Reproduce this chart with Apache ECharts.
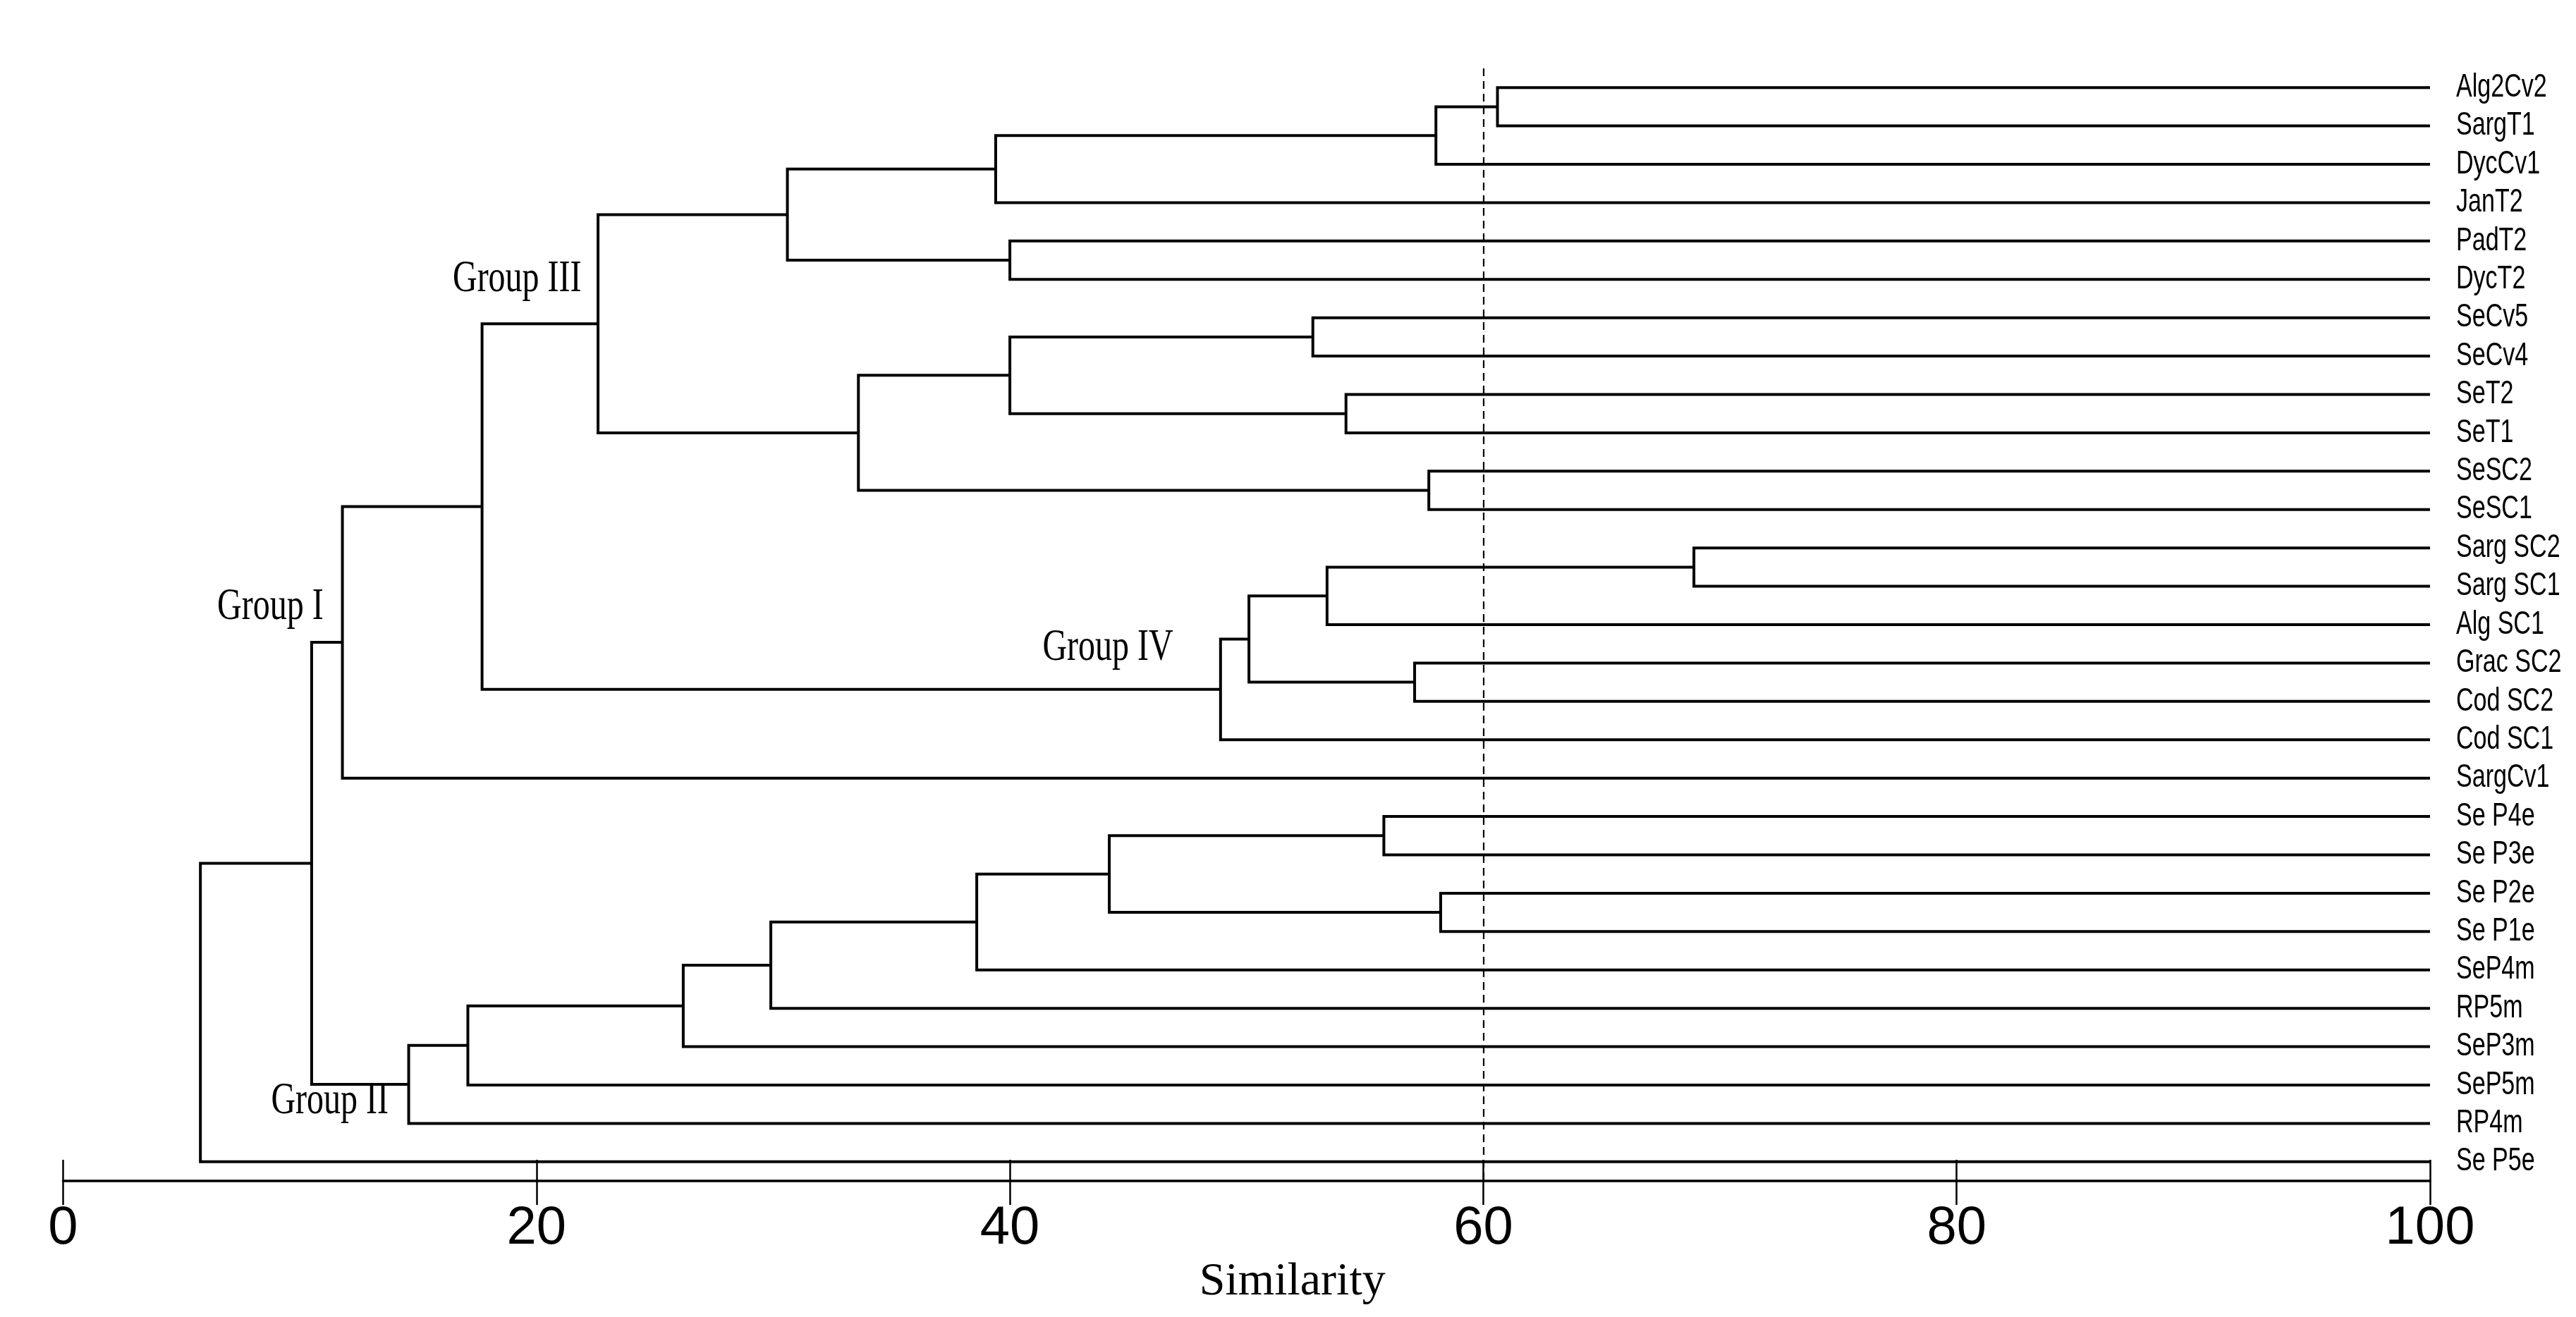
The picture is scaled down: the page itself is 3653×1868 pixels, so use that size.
<!DOCTYPE html>
<html>
<head>
<meta charset="utf-8">
<script src="https://cdn.jsdelivr.net/npm/echarts@6/dist/echarts.min.js"></script>
<style>
html,body{margin:0;padding:0;background:#ffffff;}
#chart{width:3653px;height:1868px;}
</style>
</head>
<body>
<div id="chart"></div>
<script>
// ---- data ----
const leafNames = [
  'Alg2Cv2','SargT1','DycCv1','JanT2','PadT2','DycT2','SeCv5','SeCv4','SeT2','SeT1',
  'SeSC2','SeSC1','Sarg SC2','Sarg SC1','Alg SC1','Grac SC2','Cod SC2','Cod SC1','SargCv1',
  'Se P4e','Se P3e','Se P2e','Se P1e','SeP4m','RP5m','SeP3m','SeP5m','RP4m','Se P5e'
];
// [left, right, similarity]; a number refers to an earlier merge, a string to a leaf
const merges = [
  ['Alg2Cv2','SargT1',60.6],   // 0
  [0,'DycCv1',58.0],           // 1
  [1,'JanT2',39.4],            // 2
  ['PadT2','DycT2',40.0],      // 3
  [2,3,30.6],                  // 4
  ['SeCv5','SeCv4',52.8],      // 5
  ['SeT2','SeT1',54.2],        // 6
  [5,6,40.0],                  // 7
  ['SeSC2','SeSC1',57.7],      // 8
  [7,8,33.6],                  // 9
  [4,9,22.6],                  // 10 Group III
  ['Sarg SC2','Sarg SC1',68.9],// 11
  [11,'Alg SC1',53.4],         // 12
  ['Grac SC2','Cod SC2',57.1], // 13
  [12,13,50.1],                // 14
  [14,'Cod SC1',48.9],         // 15 Group IV
  [10,15,17.7],                // 16
  [16,'SargCv1',11.8],         // 17 Group I
  ['Se P4e','Se P3e',55.8],    // 18
  ['Se P2e','Se P1e',58.2],    // 19
  [18,19,44.2],                // 20
  [20,'SeP4m',38.6],           // 21
  [21,'RP5m',29.9],            // 22
  [22,'SeP3m',26.2],           // 23
  [23,'SeP5m',17.1],           // 24
  [24,'RP4m',14.6],            // 25 Group II
  [17,25,10.5],                // 26
  [26,'Se P5e',5.8]            // 27
];
const cutoff = 60;
const groupNames = ['Group III','Group I','Group IV','Group II'];
const groupAnchorX = [21.9, 11.0, 46.9, 13.75];
const groupAnchorY = [5.0, 13.54, 14.61, 26.43];
const axisName = 'Similarity';

// ---- layout of tree from data ----
const leafIndex = {};
leafNames.forEach((n, i) => { leafIndex[n] = i; });
const nodeY = [];
function nodePos(ref) {
  if (typeof ref === 'number') return { x: merges[ref][2], y: nodeY[ref] };
  return { x: 100, y: leafIndex[ref] };
}
const linkData = merges.map((m, i) => {
  const a = nodePos(m[0]), b = nodePos(m[1]);
  nodeY[i] = (a.y + b.y) / 2;
  return [m[2], a.x, a.y, b.x, b.y];
});
const groupData = groupNames.map((n, i) => [groupAnchorX[i], groupAnchorY[i]]);
const leafData = leafNames.map((n, i) => [100, i]);

const chart = echarts.init(document.getElementById('chart'), null, { renderer: 'canvas' });
const sansFont = '"Liberation Sans", Arial, sans-serif';
const serifFont = '"Liberation Serif", "Times New Roman", serif';
const gridTop = 97, gridBottom = 193, H = 1868;

chart.setOption({
  backgroundColor: '#ffffff',
  animation: false,
  grid: { left: 89.5, right: 207, top: gridTop, bottom: gridBottom, outerBoundsMode: 'none' },
  xAxis: [{
    type: 'value', min: 0, max: 100, interval: 20, position: 'bottom',
    axisLine: { show: true, onZero: false, lineStyle: { color: '#000', width: 3.5 } },
    axisTick: { show: true, inside: false, length: 34, lineStyle: { color: '#000', width: 2.5 } },
    axisLabel: { show: true, margin: 30, fontSize: 76, color: '#000', fontFamily: sansFont },
    splitLine: { show: false },
    name: axisName, nameLocation: 'middle', nameGap: 98,
    nameTextStyle: { fontSize: 66, color: '#000', fontFamily: serifFont, padding: [0, 0, 0, 130] }
  }, {
    // second axis drawn on the same bottom line, carrying the upward half of each tick
    type: 'value', min: 0, max: 100, interval: 20, position: 'top',
    offset: -(H - gridTop - gridBottom),
    axisLine: { show: false, onZero: false },
    axisTick: { show: true, inside: false, length: 30, lineStyle: { color: '#000', width: 2.5 } },
    axisLabel: { show: false },
    splitLine: { show: false }
  }],
  yAxis: [{
    type: 'value', inverse: true, min: -0.5, max: leafNames.length - 0.5, show: false,
    axisLine: { onZero: false },
    splitLine: { show: false }
  }],
  series: [{
    type: 'custom',
    xAxisIndex: 0, yAxisIndex: 0,
    data: linkData,
    encode: { x: 0, y: 2 },
    silent: true,
    renderItem: function (params, api) {
      const s = api.value(0), ax = api.value(1), ay = api.value(2), bx = api.value(3), by = api.value(4);
      const p0 = api.coord([ax, ay]), p1 = api.coord([s, ay]), p2 = api.coord([s, by]), p3 = api.coord([bx, by]);
      return {
        type: 'polyline',
        shape: { points: [p0, p1, p2, p3] },
        style: { stroke: '#000', lineWidth: 4, fill: null, lineJoin: 'miter' }
      };
    },
    markLine: {
      silent: true, symbol: 'none', label: { show: false },
      lineStyle: { type: [11, 7], color: '#000', width: 2.2 },
      emphasis: { disabled: true },
      data: [{ xAxis: cutoff }]
    }
  }, {
    type: 'custom',
    name: 'leaf labels',
    xAxisIndex: 0, yAxisIndex: 0,
    data: leafData,
    encode: { x: 0, y: 1 },
    silent: true,
    renderItem: function (params, api) {
      const p = api.coord([api.value(0), api.value(1)]);
      return {
        type: 'text', x: p[0] + 37, y: p[1], scaleX: 0.74, scaleY: 1,
        style: {
          text: leafNames[params.dataIndex], fill: '#000',
          font: '46px ' + sansFont, textAlign: 'left', textVerticalAlign: 'middle'
        }
      };
    }
  }, {
    type: 'custom',
    name: 'group labels',
    xAxisIndex: 0, yAxisIndex: 0,
    data: groupData,
    encode: { x: 0, y: 1 },
    silent: true,
    renderItem: function (params, api) {
      const p = api.coord([api.value(0), api.value(1)]);
      return {
        type: 'text', x: p[0], y: p[1], scaleX: 0.75, scaleY: 1,
        style: {
          text: groupNames[params.dataIndex], fill: '#000',
          font: '64px ' + serifFont, textAlign: 'right', textVerticalAlign: 'middle'
        }
      };
    }
  }]
});
</script>
</body>
</html>
